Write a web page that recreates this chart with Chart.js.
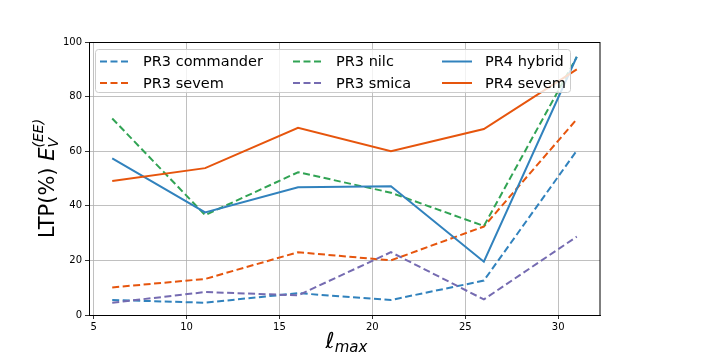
<!DOCTYPE html>
<html>
<head>
<meta charset="utf-8">
<script src="https://cdn.jsdelivr.net/npm/chart.js@4"></script>
<style>
html, body { margin: 0; padding: 0; background: #fff; }
</style>
</head>
<body>
<canvas id="grafico" width="708" height="354"></canvas>
<script>
// data
const lmax = [6, 11, 16, 21, 26, 31];
const pr3Commander = [5.5, 4.5, 8.0, 5.5, 12.6, 60.2];
const pr3Sevem = [10.1, 13.2, 23.0, 20.0, 32.4, 71.7];
const pr3Nilc = [72.0, 36.6, 52.3, 44.8, 32.6, 94.5];
const pr3Smica = [4.5, 8.4, 7.2, 23.0, 5.7, 28.7];
const pr4Hybrid = [57.4, 37.6, 46.8, 47.2, 19.5, 94.6];
const pr4Sevem = [49.1, 53.8, 68.6, 60.0, 68.1, 90.0];
const xTicks = [5, 10, 15, 20, 25, 30];
const yTicks = [0, 20, 40, 60, 80, 100];

const blue = '#3182bd', orange = '#e6550d', green = '#31a354', purple = '#756bb1';
const dash = [7, 3.5];
const FONT = '"DejaVu Sans", sans-serif';

function series(label, values, color, dashed, i) {
  return {
    label: label,
    data: lmax.map((x, k) => ({ x: x, y: values[k] })),
    borderColor: color,
    backgroundColor: color,
    borderWidth: 2,
    borderDash: dashed ? dash : [],
    pointRadius: 0,
    fill: false,
    tension: 0,
    order: 5 - i
  };
}

const datasets = [
  series('PR3 commander', pr3Commander, blue, true, 0),
  series('PR3 sevem', pr3Sevem, orange, true, 1),
  series('PR3 nilc', pr3Nilc, green, true, 2),
  series('PR3 smica', pr3Smica, purple, true, 3),
  series('PR4 hybrid', pr4Hybrid, blue, false, 4),
  series('PR4 sevem', pr4Sevem, orange, false, 5)
];

// frame, legend (3 columns, column-major like matplotlib) and math titles
const extras = {
  id: 'extras',
  afterDraw(chart) {
    const c = chart.ctx, a = chart.chartArea;
    c.save();
    c.strokeStyle = '#000';
    c.lineWidth = 1;
    c.strokeRect(Math.round(a.left) + 0.5, Math.round(a.top) + 0.5,
      Math.round(a.right - a.left) - 0.5, Math.round(a.bottom - a.top));

    // legend
    const bx = a.left + 6, by = a.top + 7, bw = 475, bh = 43;
    c.fillStyle = 'rgba(255,255,255,0.8)';
    c.strokeStyle = '#cccccc';
    c.beginPath();
    c.roundRect(bx + 0.5, by + 0.5, bw, bh, 3);
    c.fill();
    c.stroke();
    const colX = [bx + 5, bx + 198, bx + 347];
    const rowY = [by + 12.5, by + 34];
    c.font = '14.5px ' + FONT;
    c.textBaseline = 'middle';
    chart.data.datasets.forEach((ds, i) => {
      const col = Math.floor(i / 2), row = i % 2;
      const x = colX[col], y = rowY[row];
      c.strokeStyle = ds.borderColor;
      c.lineWidth = 2;
      c.setLineDash(ds.borderDash);
      c.beginPath();
      c.moveTo(x, y);
      c.lineTo(x + 30, y);
      c.stroke();
      c.setLineDash([]);
      c.fillStyle = '#000';
      c.textAlign = 'left';
      c.fillText(ds.label, x + 43, y + 1);
    });

    // y title: LTP(%) E_V^(EE)
    c.save();
    c.translate(54, (a.top + a.bottom) / 2);
    c.rotate(-Math.PI / 2);
    c.fillStyle = '#000';
    c.textBaseline = 'alphabetic';
    const parts = [
      { t: 'LTP(%) ', f: '21px ' + FONT, dy: 0 },
      { t: 'E', f: 'italic 21px ' + FONT, dy: 0 },
      { t: 'V', f: 'italic 14px ' + FONT, dy: 4 },
      { t: '(EE)', f: 'italic 14px ' + FONT, dy: -11, back: true }
    ];
    const widths = parts.map(p => { c.font = p.f; return c.measureText(p.t).width; });
    const total = widths[0] + widths[1] + Math.max(widths[2], widths[3]);
    let x = -total / 2;
    parts.forEach((p, k) => {
      c.font = p.f;
      c.textAlign = 'left';
      if (p.back) x -= widths[2];
      c.fillText(p.t, x, p.dy);
      x += widths[k];
    });
    c.restore();

    // x title: l_max
    c.fillStyle = '#000';
    c.textBaseline = 'alphabetic';
    c.font = 'italic 22px ' + FONT;
    const w1 = c.measureText('\u2113').width;
    c.font = 'italic 15px ' + FONT;
    const w2 = c.measureText('max').width;
    const sx = (a.left + a.right) / 2 - (w1 + w2) / 2 + 2;
    c.font = 'italic 22px ' + FONT;
    c.textAlign = 'left';
    c.fillText('\u2113', sx, 348);
    c.font = 'italic 15px ' + FONT;
    c.fillText('max', sx + w1, 352);
    c.restore();
  }
};

const ctx = document.getElementById('grafico').getContext('2d');

const config = {
  type: 'line',
  data: { datasets: datasets },
  options: {
    responsive: false,
    animation: false,
    devicePixelRatio: 1,
    layout: { padding: { left: 49, right: 108, top: 42, bottom: 17 } },
    plugins: {
      legend: { display: false },
      tooltip: { enabled: false }
    },
    scales: {
      x: {
        type: 'linear',
        min: 4.75,
        max: 32.25,
        afterBuildTicks: s => { s.ticks = xTicks.map(v => ({ value: v })); },
        afterFit: s => { s.height = 22; },
        ticks: { color: '#000', font: { family: FONT, size: 10 }, padding: 2, maxRotation: 0 },
        grid: { color: '#b0b0b0', lineWidth: 0.8, tickColor: '#000', tickLength: 4 },
        border: { color: '#000', width: 1 }
      },
      y: {
        min: 0,
        max: 100,
        afterBuildTicks: s => { s.ticks = yTicks.map(v => ({ value: v })); },
        afterFit: s => { s.width = 40; },
        ticks: { color: '#000', font: { family: FONT, size: 10 }, padding: 3 },
        grid: { color: '#b0b0b0', lineWidth: 0.8, tickColor: '#000', tickLength: 4 },
        border: { color: '#000', width: 1 }
      }
    }
  },
  plugins: [extras]
};

const myChart = new Chart(ctx, config);
</script>
</body>
</html>
